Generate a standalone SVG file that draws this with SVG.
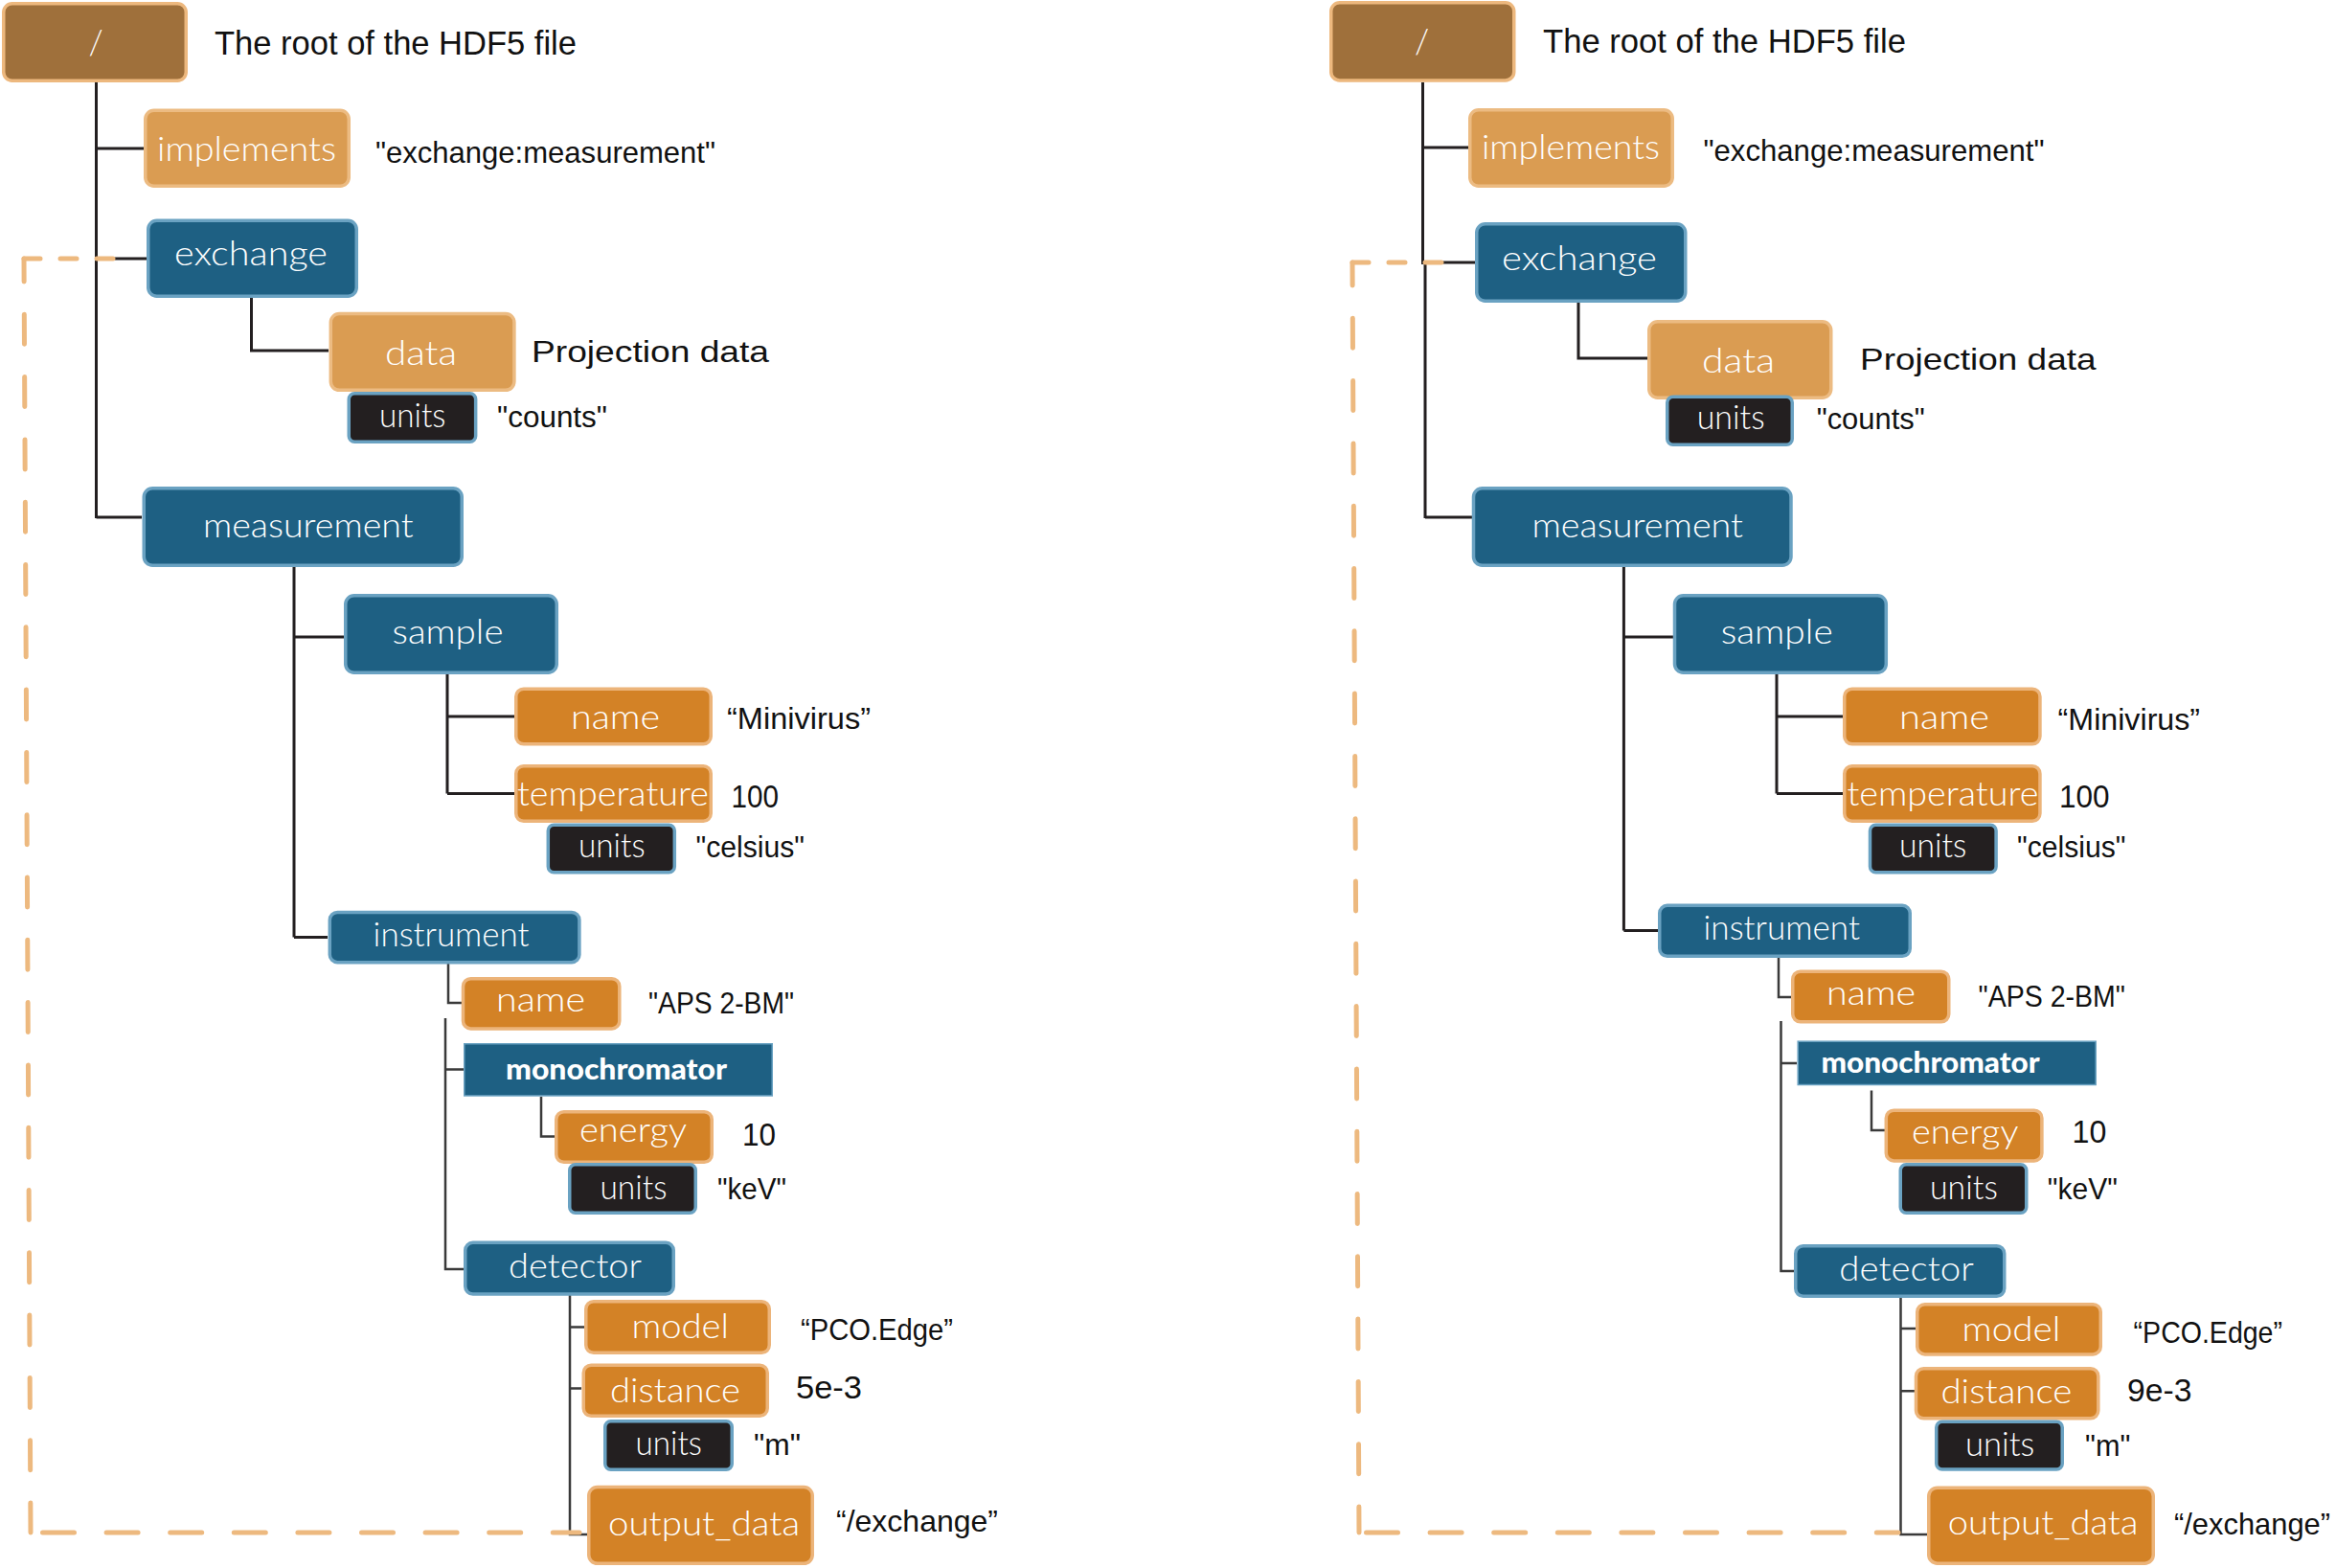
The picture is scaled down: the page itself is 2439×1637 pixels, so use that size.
<svg xmlns="http://www.w3.org/2000/svg" width="2439" height="1637" viewBox="0 0 2439 1637">
<style>
.bl{fill:#1e6083;stroke:#6aa2c2;stroke-width:3.5}
.la{fill:#da9c52;stroke:#ecbb82;stroke-width:3.5}
.or{fill:#d38226;stroke:#ecb47a;stroke-width:3.5}
.un{fill:#231f20;stroke:#6aa2c2;stroke-width:3.5}
.rt{fill:#9f703b;stroke:#edb87e;stroke-width:3.5}
.mo{fill:#1e6083;stroke:#6aa2c2;stroke-width:1.5}
.lbl{font-family:Lato,"Open Sans","Liberation Sans",sans-serif;font-weight:300;font-size:35px;fill:#ffffff}
.mono{font-family:Lato,"Open Sans","Liberation Sans",sans-serif;font-weight:900;font-size:31px;fill:#ffffff}
.val{font-family:"Liberation Sans",Arial,sans-serif;font-size:32px;fill:#111111}
.big{font-size:35px}
.num{font-size:34px}
.ln{fill:none;stroke:#231f20;stroke-width:3}
.ln2{fill:none;stroke:#3a3a3a;stroke-width:2.5}
.ds{fill:none;stroke:#edb97f;stroke-width:5;stroke-linecap:round}
</style>

<g id="connectors">
  <!-- left tree -->
  <path class="ln" d="M100.5,86 V541 M100.5,155 H150 M100.5,270 H153 M100.5,540 H148"/>
  <path class="ln" d="M262.5,311 V366 H343"/>
  <path class="ln" d="M307,592 V978.6 M307,665 H359 M307,978.6 H342"/>
  <path class="ln" d="M467,704 V828.6 M467,748 H537 M467,828.6 H537"/>
  <path class="ln2" d="M468,1006 V1047 H482 M465,1063 V1325 H484 M465,1116.6 H484"/>
  <path class="ln2" d="M565,1145 V1186.6 H579"/>
  <path class="ln2" d="M595,1346 V1602 H613 M595,1385.5 H610 M595,1449.5 H607"/>
  <!-- left dashed reference -->
  <path class="ds" d="M25,270 H121" stroke-dasharray="17 21"/>
  <path class="ds" d="M25,270 L32,1600" stroke-dasharray="31 34.3" stroke-dashoffset="7"/>
  <path class="ds" d="M32,1600 H605" stroke-dasharray="33 33.6" stroke-dashoffset="54.1"/>

  <!-- right tree -->
  <path class="ln" d="M1485.5,86 V276 M1488,276 V541 M1485.5,154 H1533 M1485.5,274 H1540 M1488,540 H1537"/>
  <path class="ln" d="M1648,316 V374 H1720"/>
  <path class="ln" d="M1695.4,592 V971.4 M1695.4,665 H1747 M1695.4,971.4 H1731"/>
  <path class="ln" d="M1855,704 V828.6 M1855,748 H1924 M1855,828.6 H1924"/>
  <path class="ln2" d="M1857,1000 V1041 H1870 M1859.5,1066 V1327 H1873 M1859.5,1110 H1876"/>
  <path class="ln2" d="M1954,1138.6 V1180 H1968"/>
  <path class="ln2" d="M1984.5,1349 V1602 H2018 M1984.5,1387 H2000 M1984.5,1452.3 H1999"/>
  <!-- right dashed reference -->
  <path class="ds" d="M1412,274 H1510" stroke-dasharray="17 21"/>
  <path class="ds" d="M1412,274 L1419,1600" stroke-dasharray="31 34.3" stroke-dashoffset="7"/>
  <path class="ds" d="M1419,1600 H1982" stroke-dasharray="33 33.6" stroke-dashoffset="59.1"/>
</g>

<!-- ===== LEFT PANEL ===== -->
<g id="L-root">
  <rect class="rt" x="3.75" y="3.75" width="190.5" height="80.5" rx="9"/>
  <text class="lbl" x="100" y="57" text-anchor="middle" font-size="36">/</text>
  <text class="val big" x="224" y="57" textLength="378" lengthAdjust="spacingAndGlyphs">The root of the HDF5 file</text>
</g>
<g id="L-implements">
  <rect class="la" x="151.75" y="115.25" width="212.5" height="79" rx="9"/>
  <text class="lbl" x="164" y="168" textLength="187" lengthAdjust="spacingAndGlyphs">implements</text>
  <text class="val" x="392" y="170" textLength="355" lengthAdjust="spacingAndGlyphs">"exchange:measurement"</text>
</g>
<g id="L-exchange">
  <rect class="bl" x="154.75" y="230.25" width="217.5" height="79" rx="9"/>
  <text class="lbl" x="182" y="277" textLength="160" lengthAdjust="spacingAndGlyphs">exchange</text>
</g>
<g id="L-data">
  <rect class="la" x="345.3" y="327.5" width="191.6" height="79.8" rx="9"/>
  <text class="lbl" x="402" y="381" textLength="75" lengthAdjust="spacingAndGlyphs">data</text>
  <text class="val" x="555" y="377.5" textLength="248" lengthAdjust="spacingAndGlyphs">Projection data</text>
</g>
<g id="L-data-units">
  <rect class="un" x="364.25" y="410.75" width="132.4" height="50.5" rx="6"/>
  <text class="lbl" x="396" y="446" textLength="69.5" lengthAdjust="spacingAndGlyphs">units</text>
  <text class="val" x="519" y="446" textLength="115" lengthAdjust="spacingAndGlyphs">"counts"</text>
</g>
<g id="L-measurement">
  <rect class="bl" x="150.25" y="509.75" width="332" height="80.5" rx="9"/>
  <text class="lbl" x="212" y="561" textLength="219.5" lengthAdjust="spacingAndGlyphs">measurement</text>
</g>
<g id="L-sample">
  <rect class="bl" x="360.75" y="621.75" width="220.5" height="80.5" rx="9"/>
  <text class="lbl" x="409.5" y="672" textLength="116" lengthAdjust="spacingAndGlyphs">sample</text>
</g>
<g id="L-sample-name">
  <rect class="or" x="538.75" y="719.25" width="203.5" height="57.6" rx="8"/>
  <text class="lbl" x="596" y="761" textLength="93" lengthAdjust="spacingAndGlyphs">name</text>
  <text class="val" x="759" y="761" textLength="150" lengthAdjust="spacingAndGlyphs">“Minivirus”</text>
</g>
<g id="L-temperature">
  <rect class="or" x="538.75" y="799.75" width="203.5" height="57.5" rx="8"/>
  <text class="lbl" x="540" y="841" textLength="200" lengthAdjust="spacingAndGlyphs">temperature</text>
  <text class="val num" x="763.6" y="843" textLength="49.5" lengthAdjust="spacingAndGlyphs">100</text>
</g>
<g id="L-temperature-units">
  <rect class="un" x="572.3" y="861.3" width="132" height="49.4" rx="6"/>
  <text class="lbl" x="604" y="895" textLength="69.6" lengthAdjust="spacingAndGlyphs">units</text>
  <text class="val" x="726.5" y="895" textLength="113.5" lengthAdjust="spacingAndGlyphs">"celsius"</text>
</g>
<g id="L-instrument">
  <rect class="bl" x="344.3" y="952.5" width="260.6" height="52.2" rx="8"/>
  <text class="lbl" x="389.6" y="988" textLength="163" lengthAdjust="spacingAndGlyphs">instrument</text>
</g>
<g id="L-instrument-name">
  <rect class="or" x="483.5" y="1021.75" width="163.3" height="52.2" rx="8"/>
  <text class="lbl" x="518" y="1056" textLength="93" lengthAdjust="spacingAndGlyphs">name</text>
  <text class="val" x="677" y="1058" textLength="152" lengthAdjust="spacingAndGlyphs">"APS 2-BM"</text>
</g>
<g id="L-monochromator">
  <rect class="mo" x="484.75" y="1089.75" width="321.5" height="54.2"/>
  <text class="mono" x="528" y="1127" textLength="231" lengthAdjust="spacingAndGlyphs">monochromator</text>
</g>
<g id="L-energy">
  <rect class="or" x="580.75" y="1160.75" width="162.5" height="52.5" rx="8"/>
  <text class="lbl" x="605" y="1192" textLength="112" lengthAdjust="spacingAndGlyphs">energy</text>
  <text class="val num" x="775" y="1196" textLength="35" lengthAdjust="spacingAndGlyphs">10</text>
</g>
<g id="L-energy-units">
  <rect class="un" x="594.75" y="1215.75" width="131.5" height="50.5" rx="6"/>
  <text class="lbl" x="626.4" y="1252" textLength="70" lengthAdjust="spacingAndGlyphs">units</text>
  <text class="val" x="749" y="1252" textLength="72" lengthAdjust="spacingAndGlyphs">"keV"</text>
</g>
<g id="L-detector">
  <rect class="bl" x="485.75" y="1297.3" width="217.5" height="53.7" rx="8"/>
  <text class="lbl" x="531" y="1334" textLength="139" lengthAdjust="spacingAndGlyphs">detector</text>
</g>
<g id="L-model">
  <rect class="or" x="611.75" y="1358.75" width="191.5" height="53.5" rx="8"/>
  <text class="lbl" x="659.4" y="1397" textLength="101.6" lengthAdjust="spacingAndGlyphs">model</text>
  <text class="val" x="836" y="1399" textLength="159" lengthAdjust="spacingAndGlyphs">“PCO.Edge”</text>
</g>
<g id="L-distance">
  <rect class="or" x="609.25" y="1425.25" width="192" height="53" rx="8"/>
  <text class="lbl" x="637" y="1464" textLength="136" lengthAdjust="spacingAndGlyphs">distance</text>
  <text class="val num" x="831" y="1460" textLength="69" lengthAdjust="spacingAndGlyphs">5e-3</text>
</g>
<g id="L-distance-units">
  <rect class="un" x="631.75" y="1483.75" width="132.5" height="50.5" rx="6"/>
  <text class="lbl" x="663.6" y="1519" textLength="69.4" lengthAdjust="spacingAndGlyphs">units</text>
  <text class="val" x="787" y="1519" textLength="49" lengthAdjust="spacingAndGlyphs">"m"</text>
</g>
<g id="L-output_data">
  <rect class="or" x="614.75" y="1552.5" width="233.5" height="79.8" rx="9"/>
  <text class="lbl" x="635" y="1603" textLength="200" lengthAdjust="spacingAndGlyphs">output_data</text>
  <text class="val" x="873" y="1599" textLength="169" lengthAdjust="spacingAndGlyphs">“/exchange”</text>
</g>

<!-- ===== RIGHT PANEL ===== -->
<g id="R-root">
  <rect class="rt" x="1389.75" y="2.75" width="191" height="81.2" rx="9"/>
  <text class="lbl" x="1484.5" y="56" text-anchor="middle" font-size="36">/</text>
  <text class="val big" x="1611" y="55.4" textLength="379" lengthAdjust="spacingAndGlyphs">The root of the HDF5 file</text>
</g>
<g id="R-implements">
  <rect class="la" x="1534.75" y="114.75" width="211.5" height="79.5" rx="9"/>
  <text class="lbl" x="1547" y="166" textLength="186" lengthAdjust="spacingAndGlyphs">implements</text>
  <text class="val" x="1778.5" y="168" textLength="356" lengthAdjust="spacingAndGlyphs">"exchange:measurement"</text>
</g>
<g id="R-exchange">
  <rect class="bl" x="1541.75" y="233.75" width="218" height="80.5" rx="9"/>
  <text class="lbl" x="1568" y="282" textLength="162" lengthAdjust="spacingAndGlyphs">exchange</text>
</g>
<g id="R-data">
  <rect class="la" x="1721.75" y="335.75" width="190" height="79.5" rx="9"/>
  <text class="lbl" x="1777" y="389" textLength="76" lengthAdjust="spacingAndGlyphs">data</text>
  <text class="val" x="1942" y="385.7" textLength="246.5" lengthAdjust="spacingAndGlyphs">Projection data</text>
</g>
<g id="R-data-units">
  <rect class="un" x="1740.75" y="414.25" width="130.5" height="50" rx="6"/>
  <text class="lbl" x="1771.7" y="448" textLength="71" lengthAdjust="spacingAndGlyphs">units</text>
  <text class="val" x="1896.7" y="448" textLength="113" lengthAdjust="spacingAndGlyphs">"counts"</text>
</g>
<g id="R-measurement">
  <rect class="bl" x="1538.5" y="509.75" width="331.5" height="80.5" rx="9"/>
  <text class="lbl" x="1599.5" y="561" textLength="220.5" lengthAdjust="spacingAndGlyphs">measurement</text>
</g>
<g id="R-sample">
  <rect class="bl" x="1748.5" y="621.75" width="220.8" height="80.5" rx="9"/>
  <text class="lbl" x="1796.7" y="672" textLength="117" lengthAdjust="spacingAndGlyphs">sample</text>
</g>
<g id="R-sample-name">
  <rect class="or" x="1925.75" y="719.25" width="204.2" height="57.6" rx="8"/>
  <text class="lbl" x="1983" y="761" textLength="94" lengthAdjust="spacingAndGlyphs">name</text>
  <text class="val" x="2148.6" y="762" textLength="148.5" lengthAdjust="spacingAndGlyphs">“Minivirus”</text>
</g>
<g id="R-temperature">
  <rect class="or" x="1925.75" y="799.75" width="204.2" height="57.5" rx="8"/>
  <text class="lbl" x="1928.4" y="841" textLength="200" lengthAdjust="spacingAndGlyphs">temperature</text>
  <text class="val num" x="2150" y="843" textLength="52.6" lengthAdjust="spacingAndGlyphs">100</text>
</g>
<g id="R-temperature-units">
  <rect class="un" x="1952.5" y="861.3" width="131.6" height="49.4" rx="6"/>
  <text class="lbl" x="1983" y="895" textLength="70.4" lengthAdjust="spacingAndGlyphs">units</text>
  <text class="val" x="2106" y="895" textLength="113.5" lengthAdjust="spacingAndGlyphs">"celsius"</text>
</g>
<g id="R-instrument">
  <rect class="bl" x="1732.75" y="945.3" width="261.5" height="53" rx="8"/>
  <text class="lbl" x="1778.5" y="981" textLength="163.5" lengthAdjust="spacingAndGlyphs">instrument</text>
</g>
<g id="R-instrument-name">
  <rect class="or" x="1871.75" y="1014.25" width="163" height="52.6" rx="8"/>
  <text class="lbl" x="1907" y="1049" textLength="93" lengthAdjust="spacingAndGlyphs">name</text>
  <text class="val" x="2065.5" y="1051.4" textLength="153.5" lengthAdjust="spacingAndGlyphs">"APS 2-BM"</text>
</g>
<g id="R-monochromator">
  <rect class="mo" x="1877.2" y="1087.2" width="311" height="45.3"/>
  <text class="mono" x="1901.4" y="1120" textLength="228.3" lengthAdjust="spacingAndGlyphs">monochromator</text>
</g>
<g id="R-energy">
  <rect class="or" x="1969.3" y="1159.2" width="162.6" height="52.7" rx="8"/>
  <text class="lbl" x="1996" y="1194.4" textLength="111.4" lengthAdjust="spacingAndGlyphs">energy</text>
  <text class="val num" x="2163.5" y="1193" textLength="35.8" lengthAdjust="spacingAndGlyphs">10</text>
</g>
<g id="R-energy-units">
  <rect class="un" x="1984.25" y="1215.75" width="131.5" height="50.5" rx="6"/>
  <text class="lbl" x="2015" y="1252.3" textLength="70.8" lengthAdjust="spacingAndGlyphs">units</text>
  <text class="val" x="2137.8" y="1252.3" textLength="73" lengthAdjust="spacingAndGlyphs">"keV"</text>
</g>
<g id="R-detector">
  <rect class="bl" x="1874.75" y="1300.75" width="218" height="52.5" rx="8"/>
  <text class="lbl" x="1920.3" y="1336.5" textLength="140.5" lengthAdjust="spacingAndGlyphs">detector</text>
</g>
<g id="R-model">
  <rect class="or" x="2001.75" y="1361.75" width="191.5" height="52.2" rx="8"/>
  <text class="lbl" x="2048.6" y="1399.7" textLength="102.7" lengthAdjust="spacingAndGlyphs">model</text>
  <text class="val" x="2227.6" y="1401.5" textLength="155.4" lengthAdjust="spacingAndGlyphs">“PCO.Edge”</text>
</g>
<g id="R-distance">
  <rect class="or" x="2000.5" y="1428.75" width="190.3" height="52" rx="8"/>
  <text class="lbl" x="2026.4" y="1465.4" textLength="137" lengthAdjust="spacingAndGlyphs">distance</text>
  <text class="val num" x="2221" y="1463" textLength="67.4" lengthAdjust="spacingAndGlyphs">9e-3</text>
</g>
<g id="R-distance-units">
  <rect class="un" x="2021.75" y="1484.25" width="131.5" height="49.8" rx="6"/>
  <text class="lbl" x="2052" y="1519.8" textLength="72.3" lengthAdjust="spacingAndGlyphs">units</text>
  <text class="val" x="2177" y="1519.8" textLength="47.3" lengthAdjust="spacingAndGlyphs">"m"</text>
</g>
<g id="R-output_data">
  <rect class="or" x="2013.75" y="1553.2" width="234.5" height="79" rx="9"/>
  <text class="lbl" x="2033.8" y="1602" textLength="198.6" lengthAdjust="spacingAndGlyphs">output_data</text>
  <text class="val" x="2270" y="1602" textLength="163" lengthAdjust="spacingAndGlyphs">“/exchange”</text>
</g>
</svg>
